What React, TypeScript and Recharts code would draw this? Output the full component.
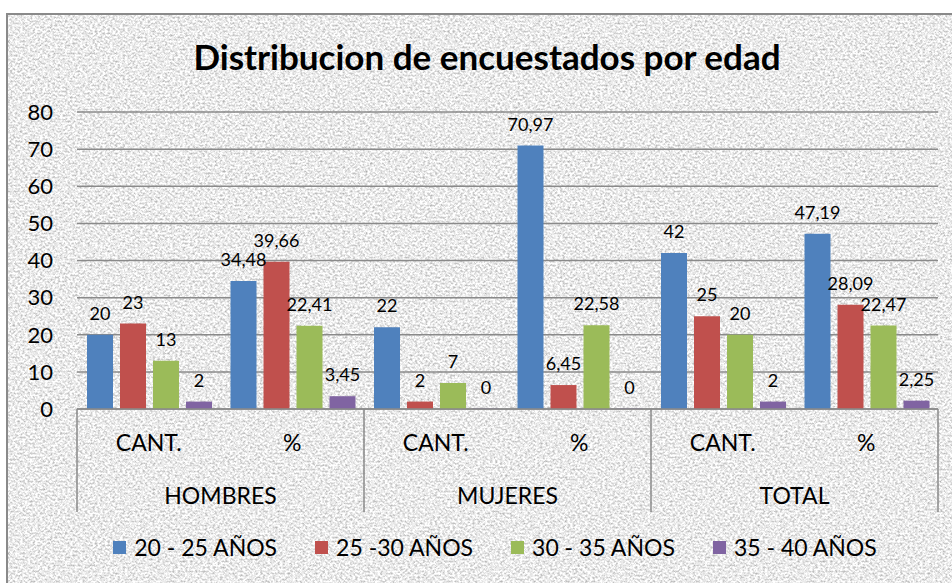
import { BarChart, Bar, XAxis, YAxis, CartesianGrid, Legend, LabelList } from "recharts";

const SUBCATS = ["CANT.", "%", "CANT.", "%", "CANT.", "%"];
const GROUPS = ["HOMBRES", "HOMBRES", "MUJERES", "MUJERES", "TOTAL", "TOTAL"];

const S20_25 = [20, 34.48, 22, 70.97, 42, 47.19];
const S25_30 = [23, 39.66, 2, 6.45, 25, 28.09];
const S30_35 = [13, 22.41, 7, 22.58, 20, 22.47];
const S35_40 = [2, 3.45, 0, 0, 2, 2.25];

const Y_TICKS = [0, 10, 20, 30, 40, 50, 60, 70, 80];

const SERIES = [
  { key: "a", name: "20 - 25 AÑOS", values: S20_25, color: "#4F81BD" },
  { key: "b", name: "25 -30 AÑOS", values: S25_30, color: "#C0504D" },
  { key: "c", name: "30 - 35 AÑOS", values: S30_35, color: "#9BBB59" },
  { key: "d", name: "35 - 40 AÑOS", values: S35_40, color: "#8064A2" },
];

const data = SUBCATS.map((sub, i) => {
  const row: Record<string, string | number> = { key: `${GROUPS[i]}-${sub}`, sub, group: GROUPS[i] };
  SERIES.forEach((s) => (row[s.key] = s.values[i]));
  return row;
});

const W = 952;
const H = 583;
// legend (30px) is reserved by recharts below the axes
const MARGIN = { top: 112, right: 14, left: 17, bottom: 41 };
const Y_W = 60;
const BAND = (W - MARGIN.left - MARGIN.right - Y_W) / SUBCATS.length;
const FONT = "Lato, 'Noto Sans', sans-serif";
const LINE = "#8a8a8a";

const fmt = (v: any) => String(v).replace(".", ",");

function SubTick(props: any) {
  const { x, y, index } = props;
  return (
    <text x={x} y={y + 42} textAnchor="middle" fontSize={23} fontFamily={FONT} fill="#000">
      {SUBCATS[index]}
    </text>
  );
}

function GroupTick(props: any) {
  const { x, y, index } = props;
  const last = index === SUBCATS.length - 1;
  return (
    <g>
      {index % 2 === 0 && (
        <>
          <line x1={x - BAND / 2} x2={x - BAND / 2} y1={y - 50} y2={y + 53} stroke={LINE} strokeWidth={1.5} />
          <text x={x + BAND / 2} y={y + 45} textAnchor="middle" fontSize={23} fontFamily={FONT} fill="#000">
            {GROUPS[index]}
          </text>
        </>
      )}
      {last && <line x1={x + BAND / 2} x2={x + BAND / 2} y1={y - 50} y2={y + 53} stroke={LINE} strokeWidth={1.5} />}
    </g>
  );
}

function LegendContent() {
  return (
    <div style={{ display: "flex", justifyContent: "center", gap: 38, fontFamily: FONT, fontSize: 23, color: "#000" }}>
      {SERIES.map((s) => (
        <div key={s.key} style={{ display: "flex", alignItems: "center", gap: 8 }}>
          <span style={{ width: 13, height: 13, background: s.color, display: "inline-block" }} />
          <span>{s.name}</span>
        </div>
      ))}
    </div>
  );
}

export default function App() {
  return (
    <div style={{ position: "fixed", left: 0, top: 0, width: W, height: H, overflow: "hidden", background: "#fff" }}>
      <div
        style={{
          position: "absolute",
          left: 6,
          top: 13,
          width: 980,
          height: 600,
          borderLeft: `2px solid ${LINE}`,
          borderTop: `2px solid ${LINE}`,
          overflow: "hidden",
        }}
      >
        <svg width={980} height={600} style={{ position: "absolute", left: 0, top: 0 }}>
          <filter id="granite" x="0" y="0" width="100%" height="100%" colorInterpolationFilters="sRGB">
            <feTurbulence type="fractalNoise" baseFrequency="0.4 0.5" numOctaves={4} seed={7} />
            <feColorMatrix type="matrix" values="0.6 0 0 0 0.62  0.6 0 0 0 0.62  0.6 0 0 0 0.62  0 0 0 0 1" />
          </filter>
          <rect width="100%" height="100%" filter="url(#granite)" />
        </svg>
      </div>
      <div
        style={{
          position: "absolute",
          left: 6,
          width: 962,
          top: 34,
          textAlign: "center",
          fontFamily: FONT,
          fontWeight: 700,
          fontSize: 35,
          lineHeight: "44px",
          color: "#000",
        }}
      >
        Distribucion de encuestados por edad
      </div>
      <div style={{ position: "absolute", left: 0, top: 0 }}>
        <BarChart width={W} height={H} data={data} margin={MARGIN} barCategoryGap={10} barGap={7}>
          <CartesianGrid vertical={false} stroke={LINE} strokeWidth={1.5} />
          <YAxis
            width={Y_W}
            domain={[0, 80]}
            ticks={Y_TICKS}
            axisLine={false}
            tickLine={false}
            tickSize={0}
            tickMargin={24}
            tick={{ fontSize: 22, fontFamily: FONT, fill: "#000" }}
          />
          <XAxis
            dataKey="key"
            height={50}
            interval={0}
            tickLine={false}
            tickSize={0}
            tickMargin={0}
            axisLine={{ stroke: LINE, strokeWidth: 1.5 }}
            tick={<SubTick />}
          />
          <XAxis
            xAxisId="grp"
            dataKey="key"
            height={53}
            interval={0}
            tickLine={false}
            tickSize={0}
            tickMargin={0}
            axisLine={false}
            tick={<GroupTick />}
          />
          <Legend
            verticalAlign="bottom"
            content={<LegendContent />}
            wrapperStyle={{ position: "absolute", top: 533, bottom: "auto", left: 20, width: W - 2, height: 30 }}
          />
          {SERIES.map((s) => (
            <Bar key={s.key} dataKey={s.key} name={s.name} fill={s.color} minPointSize={0.5} isAnimationActive={false}>
              <LabelList
                dataKey={s.key}
                position="top"
                offset={15}
                formatter={fmt}
                fill="#000"
                fontSize={18}
                fontFamily={FONT}
              />
            </Bar>
          ))}
        </BarChart>
      </div>
    </div>
  );
}
